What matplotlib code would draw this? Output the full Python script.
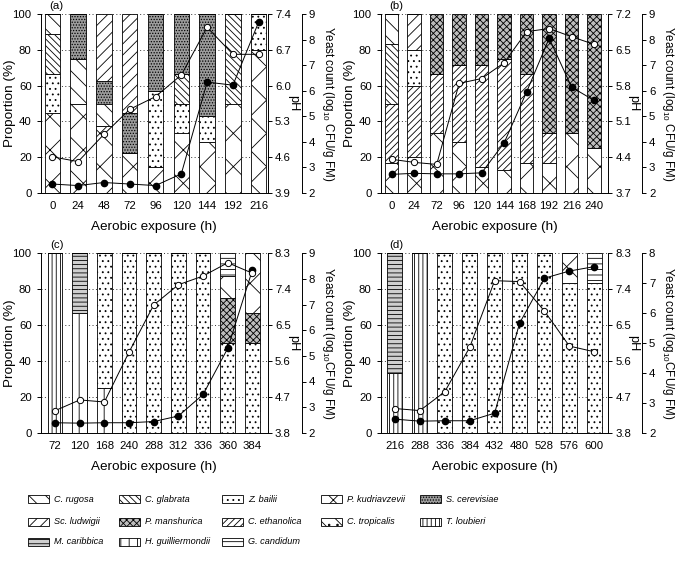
import matplotlib
matplotlib.use('Agg')
import matplotlib.pyplot as plt
from matplotlib.patches import Rectangle
import numpy as np

plt.rcParams['font.family'] = ['Liberation Sans', 'DejaVu Sans']
plt.rcParams['mathtext.fontset'] = 'custom'
plt.rcParams['mathtext.rm'] = 'Liberation Sans'
plt.rcParams['mathtext.it'] = 'Liberation Sans:italic'
plt.rcParams['hatch.linewidth'] = 0.6
plt.rcParams['hatch.color'] = 'black'

# ---------------- data ----------------
legend_order = ['C. rugosa', 'C. glabrata', 'Z. bailii', 'P. kudriavzevii', 'S. cerevisiae',
                'Sc. ludwigii', 'P. manshurica', 'C. ethanolica', 'C. tropicalis', 'T. loubieri',
                'M. caribbica', 'H. guilliermondii', 'G. candidum']

# panel (a)
times_a = [0, 24, 48, 72, 96, 120, 144, 192, 216]
comp_a = {
    'P. kudriavzevii': [44.4, 50, 37.5, 22.2, 14.3, 33.3, 28.6, 50, 80],
    'Z. bailii':       [22.2, 0, 0, 0, 42.9, 16.7, 14.3, 0, 20],
    'C. glabrata':     [22.2, 0, 0, 0, 0, 16.7, 0, 50, 0],
    'C. rugosa':       [11.1, 25, 12.5, 0, 0, 0, 0, 0, 0],
    'S. cerevisiae':   [0, 25, 12.5, 22.2, 42.9, 33.3, 57.1, 0, 0],
    'Sc. ludwigii':    [0, 0, 37.5, 55.6, 0, 0, 0, 0, 0],
}
ph_a = [4.07, 4.04, 4.10, 4.07, 4.04, 4.27, 6.07, 6.01, 7.25]
yeast_a = [3.41, 3.22, 4.29, 5.27, 5.77, 6.62, 8.49, 7.43, 7.43]

# panel (b)
times_b = [0, 24, 72, 96, 120, 144, 168, 192, 216, 240]
comp_b = {
    'P. kudriavzevii': [16.7, 20, 33.3, 28.6, 14.3, 12.5, 16.7, 16.7, 33.3, 25],
    'C. ethanolica':   [33.3, 40, 33.3, 42.9, 57.1, 62.5, 50, 16.7, 0, 0],
    'Z. bailii':       [0, 20, 0, 0, 0, 0, 0, 0, 0, 0],
    'C. glabrata':     [33.3, 0, 0, 0, 0, 0, 0, 0, 0, 0],
    'C. rugosa':       [16.7, 0, 0, 0, 0, 0, 0, 0, 0, 0],
    'Sc. ludwigii':    [0, 20, 0, 0, 0, 0, 0, 0, 0, 0],
    'P. manshurica':   [0, 0, 33.3, 28.6, 28.6, 25, 33.3, 66.7, 66.7, 75],
}
ph_b = [4.06, 4.08, 4.07, 4.07, 4.09, 4.68, 5.68, 6.73, 5.77, 5.51]
yeast_b = [3.31, 3.19, 3.11, 6.29, 6.48, 7.10, 8.32, 8.44, 8.12, 7.82]

# panel (c)
times_c = [72, 120, 168, 240, 288, 312, 336, 360, 384]
comp_c = {
    'T. loubieri':       [100, 0, 0, 0, 0, 0, 0, 0, 0],
    'H. guilliermondii': [0, 66.7, 25, 0, 0, 0, 0, 0, 0],
    'M. caribbica':      [0, 33.3, 0, 0, 0, 0, 0, 0, 0],
    'Z. bailii':         [0, 0, 75, 100, 100, 100, 100, 50, 50],
    'P. manshurica':     [0, 0, 0, 0, 0, 0, 0, 25, 16.7],
    'P. kudriavzevii':   [0, 0, 0, 0, 0, 0, 0, 12.5, 33.3],
    'G. candidum':       [0, 0, 0, 0, 0, 0, 0, 12.5, 0],
}
ph_c = [4.05, 4.04, 4.05, 4.05, 4.08, 4.22, 4.76, 5.92, 7.89]
yeast_c = [2.86, 3.28, 3.20, 5.15, 6.99, 7.78, 8.12, 8.64, 8.23]

# panel (d)
times_d = [216, 288, 336, 384, 432, 480, 528, 576, 600]
comp_d = {
    'T. loubieri':     [33.3, 100, 0, 0, 0, 0, 0, 0, 0],
    'M. caribbica':    [66.7, 0, 0, 0, 0, 0, 0, 0, 0],
    'Z. bailii':       [0, 0, 100, 100, 100, 100, 100, 83.3, 83.3],
    'P. kudriavzevii': [0, 0, 0, 0, 0, 0, 0, 16.7, 0],
    'G. candidum':     [0, 0, 0, 0, 0, 0, 0, 0, 16.7],
}
ph_d = [4.14, 4.09, 4.10, 4.10, 4.29, 6.55, 7.68, 7.86, 7.97]
yeast_d = [2.81, 2.74, 3.37, 4.86, 7.09, 7.06, 6.07, 4.90, 4.71]

ph_ticks_a = [3.9, 4.6, 5.3, 6.0, 6.7, 7.4]
ph_ticks_b = [3.7, 4.4, 5.1, 5.8, 6.5, 7.2]
ph_ticks_cd = [3.8, 4.7, 5.6, 6.5, 7.4, 8.3]
yeast_ticks_abc = [2, 3, 4, 5, 6, 7, 8, 9]
yeast_ticks_d = [2, 3, 4, 5, 6, 7, 8]

# ---------------- styles ----------------
styles = {
    'C. rugosa':         ('white', '\\\\'),
    'C. glabrata':       ('white', '\\\\\\\\\\'),
    'Z. bailii':         ('white', '...'),
    'P. kudriavzevii':   ('white', 'x'),
    'S. cerevisiae':     ('#9c9c9c', '......'),
    'Sc. ludwigii':      ('white', '///'),
    'P. manshurica':     ('#bdbdbd', 'xxxxx'),
    'C. ethanolica':     ('white', '/////'),
    'C. tropicalis':     ('white', '\\\\..'),
    'T. loubieri':       ('white', '||||'),
    'M. caribbica':      ('#cfcfcf', '----'),
    'H. guilliermondii': ('white', '||'),
    'G. candidum':       ('white', '---'),
}

W, H = 682, 567
fig = plt.figure(figsize=(W / 100, H / 100), dpi=100)


def rect(l, t, r, b):
    return [l / W, 1 - b / H, (r - l) / W, (b - t) / H]


panels = [
    dict(pos=rect(40.7, 14.3, 268, 192.7), times=times_a, comp=comp_a, ph=ph_a, yeast=yeast_a,
         phlim=(3.9, 7.4), phticks=ph_ticks_a, ylim=(2, 9), yticks=yeast_ticks_abc,
         xlim=(-0.45, 8.36), tag='(a)', ylab='Yeast count (log$_{10}$ CFU/g FM)'),
    dict(pos=rect(380.7, 14.3, 608.3, 192.7), times=times_b, comp=comp_b, ph=ph_b, yeast=yeast_b,
         phlim=(3.7, 7.2), phticks=ph_ticks_b, ylim=(2, 9), yticks=yeast_ticks_abc,
         xlim=(-0.49, 9.63), tag='(b)', ylab='Yeast count (log$_{10}$ CFU/g FM)'),
    dict(pos=rect(40.7, 253.5, 268, 432.7), times=times_c, comp=comp_c, ph=ph_c, yeast=yeast_c,
         phlim=(3.8, 8.3), phticks=ph_ticks_cd, ylim=(2, 9), yticks=yeast_ticks_abc,
         xlim=(-0.58, 8.63), tag='(c)', ylab='Yeast count (log$_{10}$CFU/g FM)'),
    dict(pos=rect(380.7, 253.5, 608.3, 432.7), times=times_d, comp=comp_d, ph=ph_d, yeast=yeast_d,
         phlim=(3.8, 8.3), phticks=ph_ticks_cd, ylim=(2, 8), yticks=yeast_ticks_d,
         xlim=(-0.57, 8.56), tag='(d)', ylab='Yeast count (log$_{10}$CFU/g FM)'),
]

TICK_FS = 8.2
LAB_FS = 9.7
AXW = 227.3  # axes width in px

for p in panels:
    ax = fig.add_axes(p['pos'])
    x = np.arange(len(p['times']))
    bottom = np.zeros(len(x))
    for name, vals in p['comp'].items():
        vals = np.array(vals, dtype=float)
        fc, hatch = styles[name]
        ax.bar(x, vals, width=0.6, bottom=bottom, color=fc, hatch=hatch,
               edgecolor='black', linewidth=0.6, zorder=2)
        bottom += vals
    ax.set_xlim(*p['xlim'])
    ax.set_ylim(0, 100)
    ax.set_yticks([0, 20, 40, 60, 80, 100])
    ax.set_xticks(x)
    ax.set_xticklabels([str(t) for t in p['times']])
    ax.tick_params(labelsize=TICK_FS, width=0.7, length=3)
    ax.tick_params(axis='x', length=0, pad=6)
    ax.yaxis.grid(True, linestyle=(0, (1, 2.5)), color='#333333', linewidth=0.7, zorder=0)
    ax.set_axisbelow(True)
    for s in ['top', 'right']:
        ax.spines[s].set_visible(False)
    for s in ['left', 'bottom']:
        ax.spines[s].set_linewidth(0.7)
    ax.set_xlabel('Aerobic exposure (h)', fontsize=LAB_FS, labelpad=7)
    ax.text(-30.5 / AXW, 0.5, 'Proportion (%)', transform=ax.transAxes, rotation=90,
            ha='center', va='center', fontsize=LAB_FS)
    ax.text(0.07, 1.045, p['tag'], transform=ax.transAxes, ha='center', va='center',
            fontsize=TICK_FS)

    # pH axis
    ax2 = ax.twinx()
    ax2.set_ylim(*p['phlim'])
    ax2.set_yticks(p['phticks'])
    ax2.set_yticklabels(['%.1f' % v for v in p['phticks']])
    for s in ['top', 'left', 'bottom']:
        ax2.spines[s].set_visible(False)
    ax2.spines['right'].set_linewidth(0.7)
    ax2.tick_params(labelsize=TICK_FS, width=0.7, length=3, pad=2)
    ax2.plot(x, p['ph'], color='black', linewidth=0.7, marker='o', markersize=4.5,
             markerfacecolor='black', markeredgecolor='black', zorder=5, clip_on=False)

    # yeast axis
    ax3 = ax.twinx()
    ax3.set_ylim(*p['ylim'])
    ax3.set_yticks(p['yticks'])
    for s in ['top', 'left', 'bottom']:
        ax3.spines[s].set_visible(False)
    ax3.spines['right'].set_position(('outward', 24.3))
    ax3.spines['right'].set_linewidth(0.7)
    ax3.tick_params(labelsize=TICK_FS, width=0.7, length=3, pad=2)
    ax3.plot(x, p['yeast'], color='black', linewidth=0.7, marker='o', markersize=4.5,
             markerfacecolor='white', markeredgecolor='black', markeredgewidth=0.7,
             zorder=5, clip_on=False)

    ax.text(1 + 25 / AXW, 0.5, 'pH', transform=ax.transAxes, rotation=270, ha='center',
            va='center', fontsize=9.2)
    ax.text(1 + 60 / AXW, 0.5, p['ylab'], transform=ax.transAxes, rotation=270, ha='center',
            va='center', fontsize=8.4)

# ---------------- legend ----------------
col_x = [28, 119, 222, 321, 420]
row_y = [499, 522, 542]
for i, name in enumerate(legend_order):
    r, c = divmod(i, 5)
    px, py = col_x[c], row_y[r]
    fc, hatch = styles[name]
    patch = Rectangle((px / W, 1 - (py + 4) / H), 21 / W, 8 / H, transform=fig.transFigure,
                      facecolor=fc, edgecolor='black', hatch=hatch, linewidth=0.6)
    fig.add_artist(patch)
    fig.text((px + 26) / W, 1 - py / H, name, fontsize=6.6, style='italic',
             ha='left', va='center')

fig.savefig('out.png', dpi=100)
